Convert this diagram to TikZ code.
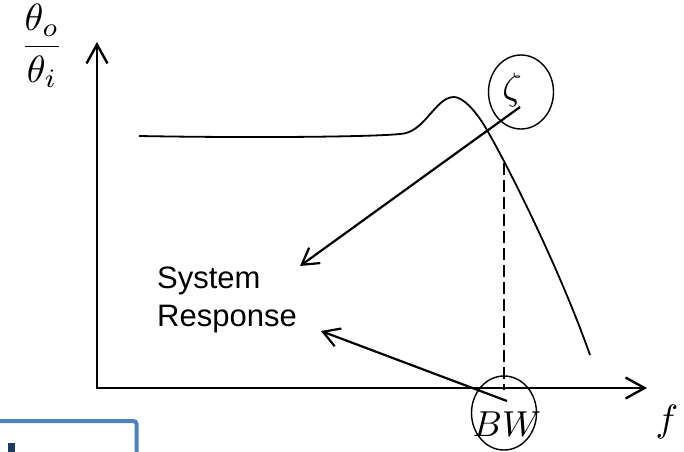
\documentclass[tikz,border=0pt]{standalone}
\usepackage{amsmath, amssymb}
\usepackage{fontspec}
\newfontfamily\labelfont{Liberation Sans}
\usepackage{tikz}
\usetikzlibrary{positioning}
\usetikzlibrary{arrows.meta}
\usetikzlibrary{shapes.geometric}
\definecolor{boxblue}{HTML}{4F81BD}
\definecolor{markblue}{HTML}{1F3A60}
\tikzset{axisarrows/.style={{Straight Barb[length=19pt,width=21pt]}-{Straight Barb[length=19pt,width=21pt]}, line width=2.4pt, line join=miter}}
\tikzset{pointer/.style={-{Straight Barb[length=16pt,width=19pt]}, line width=2.2pt}}
\tikzset{ring/.style={ellipse, draw, line width=1.4pt, inner sep=0pt, minimum width=65pt, minimum height=74pt}}
\tikzset{mathlabel/.style={inner sep=0pt, scale=3.8}}

\begin{document}
\begin{tikzpicture}[x=1pt,y=-1pt]
\useasboundingbox (0,0) rectangle (684,451);
% axes
\coordinate (origin) at (97,388);
\coordinate (ytip) at (97,42);
\coordinate (xtip) at (647,388);
\draw[axisarrows] (ytip) -- (origin) -- (xtip);
\node[mathlabel] (gain) at (42,46) {$\dfrac{\theta_o}{\theta_i}$};
\node[mathlabel] (freq) at (667,422) {$f$};
% response curve
\draw[line width=1.8pt] (139,136) .. controls (250,138) and (370,137) .. (400,134)
  .. controls (425,133) and (435,97) .. (454,97)
  .. controls (462,97) and (475,109) .. (487,130)
  .. controls (510,170) and (560,270) .. (590,355);
\coordinate (cutoff) at (504,163);
\coordinate (cutfoot) at (504,390);
\draw[line width=1.4pt, dash pattern=on 12pt off 5pt] (cutoff) -- (cutfoot);
% damping and bandwidth
\node[mathlabel] (zeta) at (512,90) {$\zeta$};
\node[ring] (zetaring) at (521,92) {};
\node[mathlabel, scale=0.95] (bw) at (507,424) {$BW$};
\node[ring] (bwring) at (504,413) {};
\node[inner sep=0pt, anchor=north west, align=left, font=\labelfont\fontsize{31}{38}\selectfont] (resp) at (157,267) {System\\Response};
\coordinate (zfoot) at (520,107);
\coordinate (respnear) at (300,266);
\coordinate (bwfoot) at (507,401);
\coordinate (respfar) at (321,331);
\draw[pointer] (zfoot) -- (respnear);
\draw[pointer] (bwfoot) -- (respfar);
% box at the bottom
\begin{scope}
\clip (0,0) rectangle (684,451);
\draw[boxblue, line width=4pt, rounded corners=3pt] (-10,421) rectangle (136.5,470);
\fill[markblue] (8,443) rectangle (15,455);
\end{scope}
\end{tikzpicture}
\end{document}
